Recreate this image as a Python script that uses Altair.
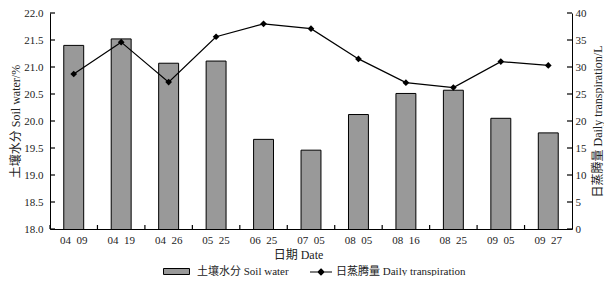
import altair as alt
import pandas as pd

categories = ["04 09", "04 19", "04 26", "05 25", "06 25", "07 05",
              "08 05", "08 16", "08 25", "09 05", "09 27"]
soil_water = [21.40, 21.52, 21.07, 21.11, 19.66, 19.46, 20.12, 20.51, 20.57, 20.05, 19.78]
daily_transpiration = [28.7, 34.6, 27.2, 35.6, 38.0, 37.1, 31.5, 27.1, 26.2, 31.0, 30.3]
series_names = ["土壤水分 Soil water", "日蒸腾量 Daily transpiration"]
soil_ticks = [18.0, 18.5, 19.0, 19.5, 20.0, 20.5, 21.0, 21.5, 22.0]
transp_ticks = [0, 5, 10, 15, 20, 25, 30, 35, 40]

df = pd.DataFrame({"date": categories, "soil": soil_water, "transp": daily_transpiration})
df["soil_series"] = series_names[0]
df["transp_series"] = series_names[1]
soil_tick_df = pd.DataFrame({"soil": soil_ticks})
transp_tick_df = pd.DataFrame({"transp": transp_ticks})
date_df = pd.DataFrame({"date": categories})

W, H = 522, 216
TL = 5  # inward tick length
FONT = "Liberation Serif, Noto Sans CJK SC"
TXT = "#222222"

x_scale = alt.Scale(paddingInner=0, paddingOuter=0)
x_axis = alt.Axis(title="日期 Date", labelAngle=0, ticks=False, tickSize=0,
                  labelPadding=5, titlePadding=4, titleX=248,
                  domainColor="black", domainWidth=1,
                  labelExpr="replace(datum.label, ' ', '\u00a0\u00a0')")

def xenc(**kw):
    return alt.X("date:N", sort=categories, scale=x_scale, axis=x_axis, **kw)

soil_scale = alt.Scale(domain=[18, 22], zero=False, nice=False)
soil_axis = alt.Axis(title="土壤水分 Soil water/%", orient="left", values=soil_ticks,
                     format=".1f", ticks=False, tickSize=0, labelPadding=7,
                     titlePadding=1, grid=False, domainColor="black", domainWidth=1)
transp_scale = alt.Scale(domain=[0, 40], nice=False)
transp_axis = alt.Axis(title="日蒸腾量 Daily transpiration/L", orient="right",
                       values=transp_ticks, ticks=False, tickSize=0, labelPadding=3,
                       titlePadding=6, titleAngle=270, titleBaseline="top", grid=False,
                       domainColor="black", domainWidth=1)

bars = alt.Chart(df).mark_bar(stroke="black", strokeWidth=1, clip=True,
                              width=alt.RelativeBandSize(0.42)).encode(
    x=xenc(),
    y=alt.Y("soil:Q", scale=soil_scale, axis=soil_axis),
    fill=alt.Fill("soil_series:N", scale=alt.Scale(range=["#999999"]),
                  legend=alt.Legend(title=None, orient="none", legendX=113, legendY=245,
                                    symbolType="M-1,-0.23H1V0.23H-1Z", symbolSize=676,
                                    symbolStrokeColor="black", symbolStrokeWidth=1,
                                    symbolFillColor="#999999", labelOffset=7, padding=0,
                                    labelFont=FONT, labelFontSize=11, labelColor=TXT)),
)

soil_tick_layer = alt.Chart(soil_tick_df).mark_rule(color="black", strokeWidth=1.2).encode(
    y=alt.Y("soil:Q", scale=soil_scale, axis=soil_axis),
    x=alt.value(0), x2=alt.value(TL),
)

date_tick_layer = alt.Chart(date_df).mark_rule(color="black", strokeWidth=1.2).encode(
    x=xenc(bandPosition=0),
    y=alt.value(H - TL + 1), y2=alt.value(H),
)

line = alt.Chart(df).mark_line(strokeWidth=1.2).encode(
    x=xenc(),
    y=alt.Y("transp:Q", scale=transp_scale, axis=transp_axis),
    stroke=alt.Stroke("transp_series:N", scale=alt.Scale(range=["black"]),
                      legend=alt.Legend(title=None, orient="none", legendX=259, legendY=247,
                                        symbolType="M-1,0H1M0,-0.27L0.27,0L0,0.27L-0.27,0Z",
                                        symbolSize=484, symbolStrokeColor="black",
                                        symbolFillColor="black", symbolStrokeWidth=1.2,
                                        labelOffset=3, padding=0,
                                        labelFont=FONT, labelFontSize=11, labelColor=TXT)),
)

points = alt.Chart(df).mark_point(shape="diamond", filled=True, color="black",
                                  size=45, opacity=1).encode(
    x=xenc(),
    y=alt.Y("transp:Q", scale=transp_scale, axis=transp_axis),
)

transp_tick_layer = alt.Chart(transp_tick_df).mark_rule(color="black", strokeWidth=1.2).encode(
    y=alt.Y("transp:Q", scale=transp_scale, axis=transp_axis),
    x=alt.value(W - TL), x2=alt.value(W),
)

left = alt.layer(bars, soil_tick_layer, date_tick_layer)
right = alt.layer(line, points, transp_tick_layer)

chart = alt.layer(left, right).resolve_scale(y="independent").properties(
    width=W, height=H, background="white",
    autosize=alt.AutoSizeParams(type="none"),
    padding={"left": 42, "top": 5, "right": 32, "bottom": 47},
).configure_view(stroke=None).configure_axis(
    labelFont=FONT, labelFontSize=11, labelColor=TXT,
    titleFont=FONT, titleFontSize=12, titleColor=TXT, titleFontWeight="normal",
)

chart.save("out.html", embed_options={"renderer": "svg", "actions": False})
